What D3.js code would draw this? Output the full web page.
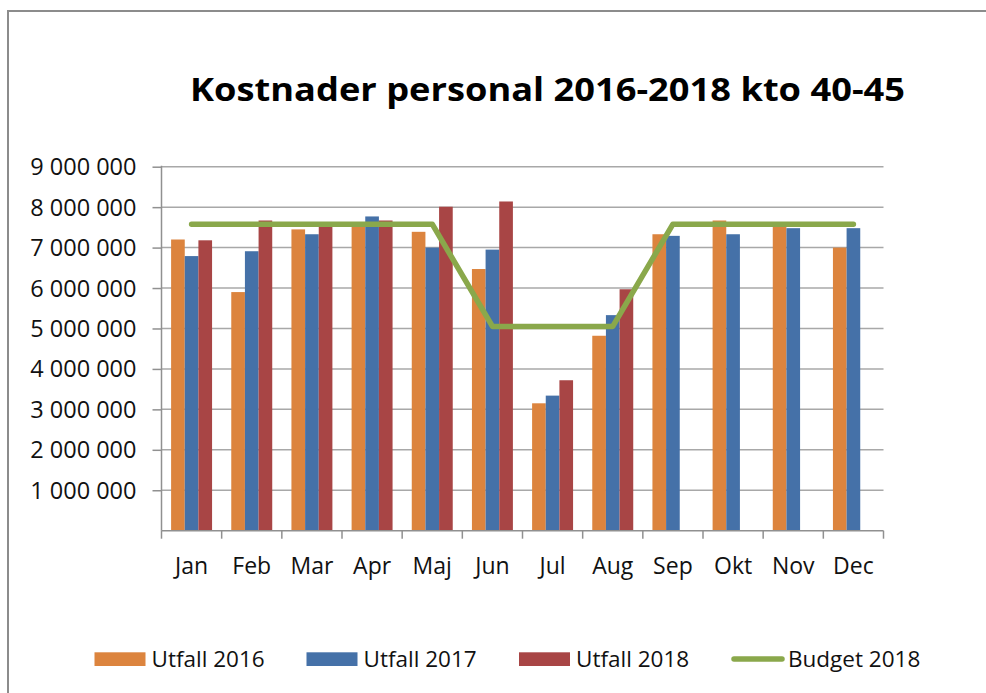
<!DOCTYPE html>
<html>
<head>
<meta charset="utf-8">
<script src="https://cdn.jsdelivr.net/npm/d3@7"></script>
<style>
  html, body { margin: 0; padding: 0; background: #fff; }
  svg { display: block; }
</style>
</head>
<body>
<svg id="chart" width="986" height="693"></svg>
<script>
// ---- Data ----
const months = ["Jan", "Feb", "Mar", "Apr", "Maj", "Jun", "Jul", "Aug", "Sep", "Okt", "Nov", "Dec"];
const seriesNames = ["Utfall 2016", "Utfall 2017", "Utfall 2018"];
const utfall2016 = [7200000, 5900000, 7450000, 7550000, 7390000, 6470000, 3150000, 4820000, 7330000, 7670000, 7570000, 7000000];
const utfall2017 = [6790000, 6910000, 7330000, 7770000, 7000000, 6950000, 3340000, 5330000, 7290000, 7330000, 7480000, 7480000];
const utfall2018 = [7180000, 7670000, 7580000, 7670000, 8010000, 8140000, 3720000, 5970000, null, null, null, null];
const budget2018 = [7580000, 7580000, 7580000, 7580000, 7580000, 5050000, 5050000, 5050000, 7580000, 7580000, 7580000, 7580000];
const budgetName = "Budget 2018";
const yTicks = [0, 1000000, 2000000, 3000000, 4000000, 5000000, 6000000, 7000000, 8000000, 9000000];
const title = "Kostnader personal 2016-2018 kto 40-45";

const colors = ["#DC843E", "#4571A8", "#A84545"];
const budgetColor = "#8AA84B";

// ---- Layout ----
const svg = d3.select("#chart");
const FONT = "'Open Sans', 'Noto Sans', sans-serif";
const x0 = 161.5, x1 = 883.5, yBase = 530.7, yTop = 166.7;

// frame
svg.append("path")
  .attr("d", `M8,700 L8,11 L1000,11`)
  .attr("fill", "none").attr("stroke", "#8c8c8c").attr("stroke-width", 2);

// title
svg.append("text")
  .attr("x", 547.5).attr("y", 101)
  .attr("text-anchor", "middle")
  .attr("font-family", FONT).attr("font-weight", 700).attr("font-size", 33)
  .attr("textLength", 715).attr("lengthAdjust", "spacingAndGlyphs")
  .attr("fill", "#000")
  .text(title);

const x = d3.scaleBand().domain(months).range([x0, x1]).padding(0);
const gap = 9.6;
const xs = d3.scaleBand().domain(seriesNames).range([gap, x.bandwidth() - gap]).padding(0);
const y = d3.scaleLinear().domain([0, 9000000]).range([yBase, yTop]);

const fmt = d3.formatLocale({ decimal: ",", thousands: " ", grouping: [3], currency: ["", " kr"] }).format(",.0f");

// gridlines
svg.append("g").selectAll("line")
  .data(yTicks.filter(d => d > 0))
  .join("line")
  .attr("x1", x0).attr("x2", x1)
  .attr("y1", d => y(d)).attr("y2", d => y(d))
  .attr("stroke", "#a8a8a8").attr("stroke-width", 1.5);

// y axis
const yAxis = svg.append("g")
  .attr("transform", `translate(${x0},0)`)
  .call(d3.axisLeft(y).tickValues(yTicks.filter(d => d > 0)).tickFormat(fmt).tickSize(9).tickPadding(16));
yAxis.select(".domain").remove();
yAxis.selectAll(".tick line").attr("stroke", "#909090").attr("stroke-width", 1.5);
yAxis.selectAll(".tick text")
  .attr("font-family", FONT).attr("font-size", 23.5).attr("fill", "#111").attr("dy", "0.34em");
svg.append("line")
  .attr("x1", x0).attr("x2", x0).attr("y1", yTop - 1).attr("y2", yBase)
  .attr("stroke", "#909090").attr("stroke-width", 1.5);

// bars
const allSeries = [utfall2016, utfall2017, utfall2018];
const barData = [];
allSeries.forEach((arr, si) => arr.forEach((v, mi) => {
  if (v != null) barData.push({ s: seriesNames[si], si, m: months[mi], v });
}));
svg.append("g").selectAll("rect")
  .data(barData)
  .join("rect")
  .attr("x", d => x(d.m) + xs(d.s))
  .attr("width", xs.bandwidth())
  .attr("y", d => y(d.v))
  .attr("height", d => yBase - y(d.v))
  .attr("fill", d => colors[d.si]);

// x axis
const xAxis = svg.append("g")
  .attr("transform", `translate(0,${yBase})`)
  .call(d3.axisBottom(x).tickSize(0).tickPadding(27));
xAxis.select(".domain").remove();
xAxis.selectAll(".tick text")
  .attr("font-family", FONT).attr("font-size", 23).attr("fill", "#111");
svg.append("line")
  .attr("x1", x0).attr("x2", x1).attr("y1", yBase).attr("y2", yBase)
  .attr("stroke", "#909090").attr("stroke-width", 1.5);
// category boundary ticks
svg.append("g").selectAll("line")
  .data(months.concat(["__end"]))
  .join("line")
  .attr("x1", (d, i) => i < months.length ? x(d) : x1)
  .attr("x2", (d, i) => i < months.length ? x(d) : x1)
  .attr("y1", yBase).attr("y2", yBase + 8)
  .attr("stroke", "#909090").attr("stroke-width", 1.5);

// budget line
const line = d3.line()
  .x((d, i) => x(months[i]) + x.bandwidth() / 2)
  .y(d => y(d));
svg.append("path")
  .datum(budget2018)
  .attr("d", line)
  .attr("fill", "none")
  .attr("stroke", budgetColor)
  .attr("stroke-width", 5.5)
  .attr("stroke-linecap", "round")
  .attr("stroke-linejoin", "round");

// legend
const legendItems = [
  { name: seriesNames[0], type: "rect", color: colors[0], x: 94.5 },
  { name: seriesNames[1], type: "rect", color: colors[1], x: 306.5 },
  { name: seriesNames[2], type: "rect", color: colors[2], x: 519 },
  { name: budgetName, type: "line", color: budgetColor, x: 731 }
];
const lg = svg.append("g");
legendItems.forEach(it => {
  if (it.type === "rect") {
    lg.append("rect").attr("x", it.x).attr("y", 652.3).attr("width", 51).attr("height", 13.7).attr("fill", it.color);
  } else {
    lg.append("line").attr("x1", it.x + 3).attr("x2", it.x + 51).attr("y1", 659).attr("y2", 659)
      .attr("stroke", it.color).attr("stroke-width", 5.5).attr("stroke-linecap", "round");
  }
  lg.append("text").attr("x", it.x + 57).attr("y", 667)
    .attr("font-family", FONT).attr("font-size", 22.5).attr("fill", "#111")
    .text(it.name);
});
</script>
</body>
</html>
